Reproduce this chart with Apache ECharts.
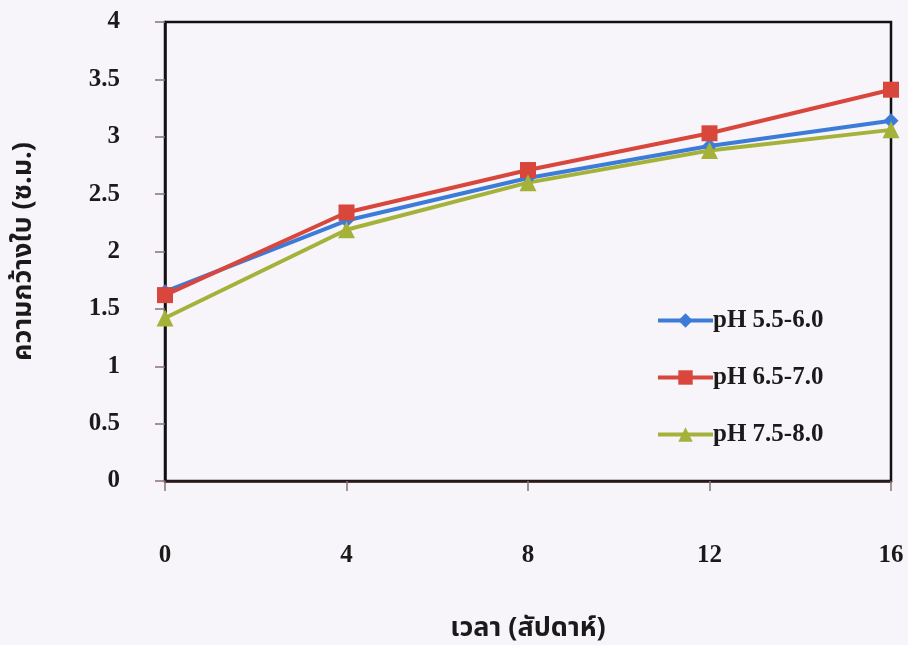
<!DOCTYPE html>
<html>
<head>
<meta charset="utf-8">
<script src="https://cdn.jsdelivr.net/npm/echarts@6/dist/echarts.min.js"></script>
<style>
  html, body { margin: 0; padding: 0; background: #f7f5fa; }
  #chart { width: 908px; height: 645px; }
</style>
</head>
<body>
<div id="chart"></div>
<script>
// Leaf width (cm) over time (weeks) at three pH ranges
const weeks = ['0', '4', '8', '12', '16'];
const ph55_60 = [1.65, 2.27, 2.64, 2.92, 3.14];
const ph65_70 = [1.62, 2.34, 2.71, 3.03, 3.41];
const ph75_80 = [1.42, 2.19, 2.60, 2.88, 3.06];
const seriesNames = ['pH 5.5-6.0', 'pH 6.5-7.0', 'pH 7.5-8.0'];

const serif = '"Liberation Serif", "Times New Roman", serif';
const thai = '"Noto Sans Thai", "Loma", "Garuda", "DejaVu Sans", sans-serif';

const chart = echarts.init(document.getElementById('chart'));

function lineSeries(name, data, color, symbol, size) {
  return {
    name: name,
    type: 'line',
    data: data,
    symbol: symbol,
    symbolSize: size,
    lineStyle: { color: color, width: 4 },
    itemStyle: { color: color },
    z: 3
  };
}

chart.setOption({
  backgroundColor: '#f7f5fa',
  animation: false,
  grid: {
    left: 165, right: 17, top: 22, bottom: 164,
    outerBoundsMode: 'none',
    containLabel: false,
    show: true, borderColor: '#111', borderWidth: 2.5, backgroundColor: 'transparent'
  },
  legend: {
    orient: 'vertical',
    left: 651, top: 303,
    itemGap: 32,
    itemWidth: 55, itemHeight: 18,
    data: seriesNames,
    lineStyle: { width: 4 },
    textStyle: { fontFamily: serif, fontWeight: 'bold', fontSize: 25, color: '#1a1a1a', padding: [0, 0, 0, -5] }
  },
  xAxis: {
    type: 'category',
    data: weeks,
    boundaryGap: false,
    name: 'เวลา (สัปดาห์)',
    nameLocation: 'middle',
    nameGap: 136,
    nameTextStyle: { fontFamily: thai, fontWeight: 'bold', fontSize: 27, color: '#1a1a1a' },
    axisLine: { lineStyle: { color: '#2a1a1a', width: 2.5 } },
    axisTick: { show: true, alignWithLabel: true, length: 10, lineStyle: { color: '#8a7070', width: 1.5 } },
    axisLabel: { margin: 62, fontFamily: serif, fontWeight: 'bold', fontSize: 25, color: '#1a1a1a' },
    splitLine: { show: false }
  },
  yAxis: {
    type: 'value',
    min: 0, max: 4, interval: 0.5,
    name: 'ความกว้างใบ (ซ.ม.)',
    nameLocation: 'middle',
    nameGap: 126,
    nameRotate: 90,
    nameTextStyle: { fontFamily: thai, fontWeight: 'bold', fontSize: 27, color: '#1a1a1a' },
    axisLine: { show: true, lineStyle: { color: '#111', width: 2.5 } },
    axisTick: { show: true, length: 10, lineStyle: { color: '#8a7070', width: 1.5 } },
    axisLabel: { margin: 45, fontFamily: serif, fontWeight: 'bold', fontSize: 25, color: '#1a1a1a' },
    splitLine: { show: false }
  },
  series: [
    lineSeries(seriesNames[0], ph55_60, '#3d7bd8', 'diamond', 15),
    lineSeries(seriesNames[1], ph65_70, '#d9463b', 'rect', 16),
    lineSeries(seriesNames[2], ph75_80, '#a4b23a', 'triangle', 17)
  ]
});
</script>
</body>
</html>
